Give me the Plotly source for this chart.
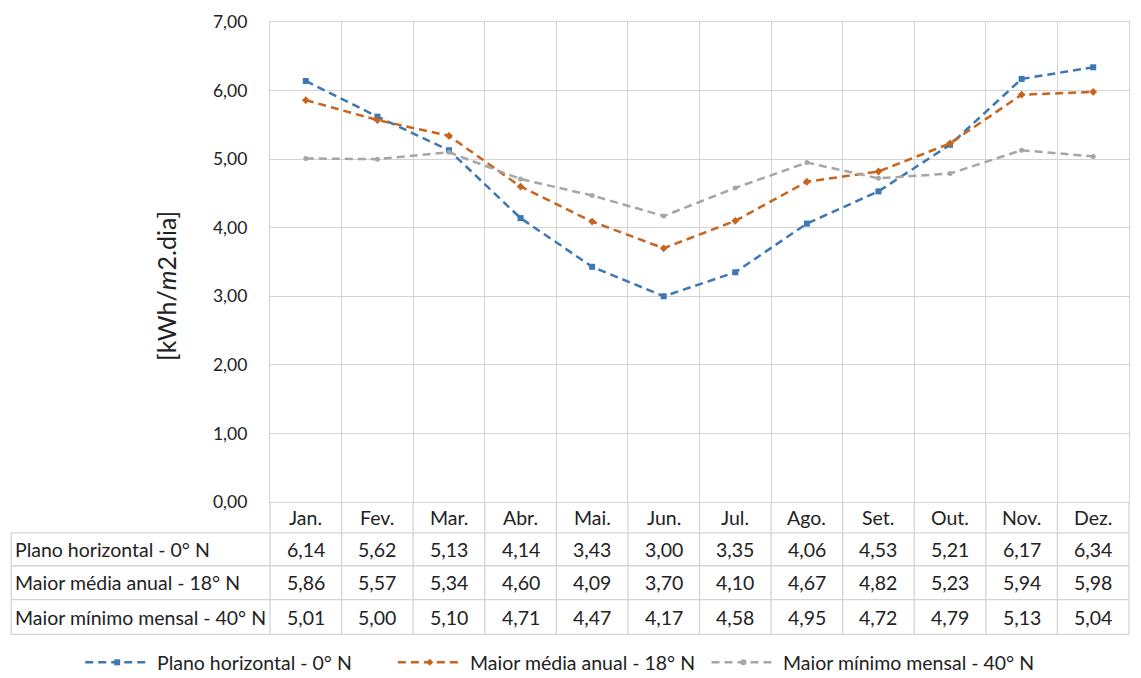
import plotly.graph_objects as go

# Monthly daily irradiation for three panel orientations
months = ["Jan.", "Fev.", "Mar.", "Abr.", "Mai.", "Jun.", "Jul.", "Ago.", "Set.", "Out.", "Nov.", "Dez."]
plano_horizontal = [6.14, 5.62, 5.13, 4.14, 3.43, 3.00, 3.35, 4.06, 4.53, 5.21, 6.17, 6.34]
media_anual = [5.86, 5.57, 5.34, 4.60, 4.09, 3.70, 4.10, 4.67, 4.82, 5.23, 5.94, 5.98]
minimo_mensal = [5.01, 5.00, 5.10, 4.71, 4.47, 4.17, 4.58, 4.95, 4.72, 4.79, 5.13, 5.04]
series_names = ["Plano horizontal - 0° N", "Maior média anual - 18° N", "Maior mínimo mensal - 40° N"]
y_ticks = [0, 1, 2, 3, 4, 5, 6, 7]

colors = ["#3b78b4", "#c8641e", "#a6a6a6"]
symbols = ["square", "diamond", "circle"]
sizes = [6, 6, 5]
DASH = "8px,5px"
FONT = "Lato"
TXT = "#222222"
GRID = "#d4d4d4"

W, H = 1141, 678
ML, MR, MT, MB = 270, 11, 20, 176
plot_w = W - ML - MR
plot_h = H - MT - MB
n = len(months)
xs = [i + 0.5 for i in range(n)]
fs = 19.5

fig = go.Figure()
all_series = [plano_horizontal, media_anual, minimo_mensal]
for name, vals, c, s, sz in zip(series_names, all_series, colors, symbols, sizes):
    fig.add_trace(go.Scatter(
        x=xs, y=vals, name=name, mode="lines+markers", showlegend=False,
        line=dict(color=c, width=2.5, dash=DASH),
        marker=dict(color=c, symbol=s, size=sz),
    ))

# helpers: pixel offsets -> axis-domain fractions
def ydom(px_below_axis):
    return -px_below_axis / plot_h

def xdom(px):
    return (px - ML) / plot_w

# Data table below the plot: row boundaries in pixels beneath the x axis
row_px = [0, 31, 64, 98, 133]
shapes = []
line_style = dict(color=GRID, width=1.3)
for i in range(n + 1):
    shapes.append(dict(type="line", xref="x domain", yref="y domain",
                       x0=i / n, x1=i / n, y0=0, y1=ydom(row_px[-1]), line=line_style))
left_edge = xdom(11)
for px in row_px[1:]:
    shapes.append(dict(type="line", xref="x domain", yref="y domain",
                       x0=left_edge, x1=1, y0=ydom(px), y1=ydom(px), line=line_style))
shapes.append(dict(type="line", xref="x domain", yref="y domain",
                   x0=left_edge, x1=left_edge, y0=ydom(row_px[1]), y1=ydom(row_px[-1]), line=line_style))

annotations = []
for i, m in enumerate(months):
    annotations.append(dict(xref="x domain", yref="y domain", x=(i + 0.5) / n,
                            y=ydom((row_px[0] + row_px[1]) / 2), text=m, showarrow=False,
                            xanchor="center", yanchor="middle",
                            font=dict(family=FONT, size=fs, color=TXT)))
for r, (name, vals) in enumerate(zip(series_names, all_series)):
    yc = ydom((row_px[r + 1] + row_px[r + 2]) / 2)
    annotations.append(dict(xref="x domain", yref="y domain", x=xdom(13), y=yc,
                            text=name, showarrow=False, xanchor="left", yanchor="middle",
                            font=dict(family=FONT, size=fs, color=TXT)))
    for i, v in enumerate(vals):
        annotations.append(dict(xref="x domain", yref="y domain", x=(i + 0.5) / n, y=yc,
                                text=f"{v:.2f}".replace(".", ","), showarrow=False,
                                xanchor="center", yanchor="middle",
                                font=dict(family=FONT, size=fs, color=TXT)))

# Legend row: dashed sample line with marker, then the series name
legend_y = ydom(663 - (H - MB))
legend_x0 = [85, 398, 712]
sample_len = 64
for name, c, s, x0 in zip(series_names, colors, symbols, legend_x0):
    shapes.append(dict(type="line", xref="x domain", yref="y domain",
                       x0=xdom(x0), x1=xdom(x0 + sample_len), y0=legend_y, y1=legend_y,
                       line=dict(color=c, width=2.5, dash=DASH)))
    cx = x0 + sample_len / 2
    r = 3
    if s == "square":
        shapes.append(dict(type="rect", xref="x domain", yref="y domain",
                           x0=xdom(cx - r), x1=xdom(cx + r), y0=legend_y - r / plot_h,
                           y1=legend_y + r / plot_h, fillcolor=c, line=dict(width=0)))
    elif s == "diamond":
        pts = [(cx, -r - 0.5), (cx + r + 0.5, 0), (cx, r + 0.5), (cx - r - 0.5, 0)]
        path = "M " + " L ".join(f"{xdom(px)},{legend_y + dy / plot_h}" for px, dy in pts) + " Z"
        shapes.append(dict(type="path", xref="x domain", yref="y domain", path=path,
                           fillcolor=c, line=dict(width=0)))
    else:
        shapes.append(dict(type="circle", xref="x domain", yref="y domain",
                           x0=xdom(cx - r), x1=xdom(cx + r), y0=legend_y - r / plot_h,
                           y1=legend_y + r / plot_h, fillcolor=c, line=dict(width=0)))
    annotations.append(dict(xref="x domain", yref="y domain", x=xdom(x0 + sample_len + 6),
                            y=legend_y, text=name, showarrow=False, xanchor="left",
                            yanchor="middle", font=dict(family=FONT, size=fs, color=TXT)))

# Rotated y-axis title
annotations.append(dict(xref="x domain", yref="y domain", x=xdom(166), y=ydom(285 - (H - MB)),
                        text="[kWh/<i>m</i>2.dia]", textangle=-90, showarrow=False,
                        xanchor="center", yanchor="middle",
                        font=dict(family=FONT, size=25, color=TXT)))

fig.update_layout(
    width=W, height=H,
    margin=dict(l=ML, r=MR, t=MT, b=MB),
    paper_bgcolor="white", plot_bgcolor="white",
    separators=",.",
    font=dict(family=FONT, size=fs, color=TXT),
    showlegend=False,
    xaxis=dict(range=[0, n], tickvals=list(range(n + 1)), showticklabels=False,
               showgrid=True, gridcolor=GRID, gridwidth=1.3, zeroline=False,
               showline=True, linecolor=GRID, linewidth=1.3, mirror=True, ticks=""),
    yaxis=dict(range=[0, 7], tickvals=y_ticks, tickformat=".2f",
               showgrid=True, gridcolor=GRID, gridwidth=1.3, zeroline=False,
               showline=True, linecolor=GRID, linewidth=1.3, mirror=True, ticks="",
               ticklabelstandoff=18, tickfont=dict(family=FONT, size=17.5, color=TXT)),
    shapes=shapes,
    annotations=annotations,
)

fig.write_html("out.html")
